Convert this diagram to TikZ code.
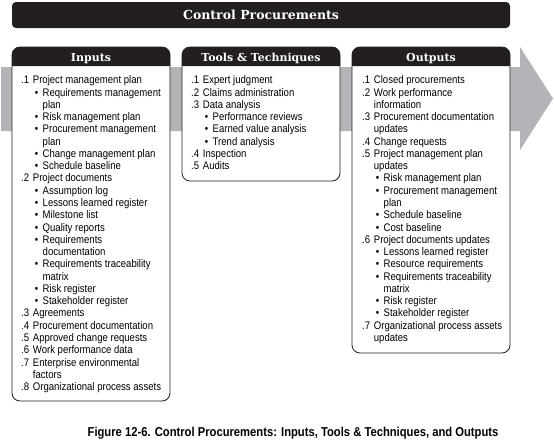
\documentclass[tikz,border=0pt]{standalone}
\usepackage{fontspec}
\newfontfamily\bodyfont{Liberation Sans}[FakeStretch=0.87]
\newfontfamily\headfont{DejaVu Serif}
\definecolor{headblack}{RGB}{35,31,32}
\definecolor{bandgray}{RGB}{179,180,183}

% one line of a numbered list: number, continuation, bullet, bullet continuation
\newcommand\pmNum[2]{\hbox{\hbox to 11.7pt{#1\hss}#2}}
\newcommand\pmCont[1]{\hbox{\kern11.7pt #1}}
\newcommand\pmBul[1]{\hbox{\kern13.6pt\hbox to 7.9pt{\textbullet\hss}#1}}
\newcommand\pmBulCont[1]{\hbox{\kern21.5pt #1}}

\tikzset{
  boxline/.style={draw=headblack, line width=0.8pt, fill=white, rounded corners=8pt},
  headfill/.style={fill=headblack},
  headtext/.style={text=white, inner sep=0pt, anchor=base,
    font=\headfont\bfseries\fontsize{11}{13}\selectfont},
  titletext/.style={text=white, inner sep=0pt, anchor=base,
    font=\headfont\bfseries\fontsize{12.5}{15}\selectfont},
  listtext/.style={inner sep=0pt, anchor=base west,
    font=\bodyfont\fontsize{11}{12.27}\selectfont},
  captiontext/.style={inner sep=0pt, anchor=base,
    font=\bodyfont\bfseries\fontsize{12.9}{15}\selectfont},
}

\begin{document}
\begin{tikzpicture}[x=1pt,y=-1pt]
\useasboundingbox[fill=white] (0,0) rectangle (554,439);

% process flow band with arrow head
\fill[bandgray] (1,67) -- (520,67) -- (520,47) -- (553,98.5) -- (520,150)
  -- (520,131) -- (1,131) -- cycle;

% title bar
\fill[headfill, rounded corners=4pt] (12,2) rectangle (510,28);
\node[titletext] (title) at (261,19.6) {Control Procurements};

% column boxes
\draw[boxline] (12,47) rectangle (170,401);
\fill[headfill] (12,66) {[rounded corners=8pt] -- (12,47) -- (170,47)} -- (170,66) -- cycle;
\draw[boxline] (182,47) rectangle (340,181);
\fill[headfill] (182,66) {[rounded corners=8pt] -- (182,47) -- (340,47)} -- (340,66) -- cycle;
\draw[boxline] (352,47) rectangle (510,353);
\fill[headfill] (352,66) {[rounded corners=8pt] -- (352,47) -- (510,47)} -- (510,66) -- cycle;

\node[headtext] (inhead) at (91,61) {Inputs};
\node[headtext] (toolhead) at (261,61) {Tools \& Techniques};
\node[headtext] (outhead) at (431,61) {Outputs};

% inputs
\node[listtext] (inlist) at (21,83.8) {\vtop{\baselineskip=12.27pt
  \pmNum{.1}{Project management plan}
  \pmBul{Requirements management}
  \pmBulCont{plan}
  \pmBul{Risk management plan}
  \pmBul{Procurement management}
  \pmBulCont{plan}
  \pmBul{Change management plan}
  \pmBul{Schedule baseline}
  \pmNum{.2}{Project documents}
  \pmBul{Assumption log}
  \pmBul{Lessons learned register}
  \pmBul{Milestone list}
  \pmBul{Quality reports}
  \pmBul{Requirements}
  \pmBulCont{documentation}
  \pmBul{Requirements traceability}
  \pmBulCont{matrix}
  \pmBul{Risk register}
  \pmBul{Stakeholder register}
  \pmNum{.3}{Agreements}
  \pmNum{.4}{Procurement documentation}
  \pmNum{.5}{Approved change requests}
  \pmNum{.6}{Work performance data}
  \pmNum{.7}{Enterprise environmental}
  \pmCont{factors}
  \pmNum{.8}{Organizational process assets}}};

% tools and techniques
\node[listtext] (toollist) at (191,83.8) {\vtop{\baselineskip=12.27pt
  \pmNum{.1}{Expert judgment}
  \pmNum{.2}{Claims administration}
  \pmNum{.3}{Data analysis}
  \pmBul{Performance reviews}
  \pmBul{Earned value analysis}
  \pmBul{Trend analysis}
  \pmNum{.4}{Inspection}
  \pmNum{.5}{Audits}}};

% outputs
\node[listtext] (outlist) at (362,83.8) {\vtop{\baselineskip=12.27pt
  \pmNum{.1}{Closed procurements}
  \pmNum{.2}{Work performance}
  \pmCont{information}
  \pmNum{.3}{Procurement documentation}
  \pmCont{updates}
  \pmNum{.4}{Change requests}
  \pmNum{.5}{Project management plan}
  \pmCont{updates}
  \pmBul{Risk management plan}
  \pmBul{Procurement management}
  \pmBulCont{plan}
  \pmBul{Schedule baseline}
  \pmBul{Cost baseline}
  \pmNum{.6}{Project documents updates}
  \pmBul{Lessons learned register}
  \pmBul{Resource requirements}
  \pmBul{Requirements traceability}
  \pmBulCont{matrix}
  \pmBul{Risk register}
  \pmBul{Stakeholder register}
  \pmNum{.7}{Organizational process assets}
  \pmCont{updates}}};

\node[captiontext] (caption) at (293,436)
  {Figure 12-6. Control Procurements: Inputs, Tools \& Techniques, and Outputs};
\end{tikzpicture}
\end{document}
